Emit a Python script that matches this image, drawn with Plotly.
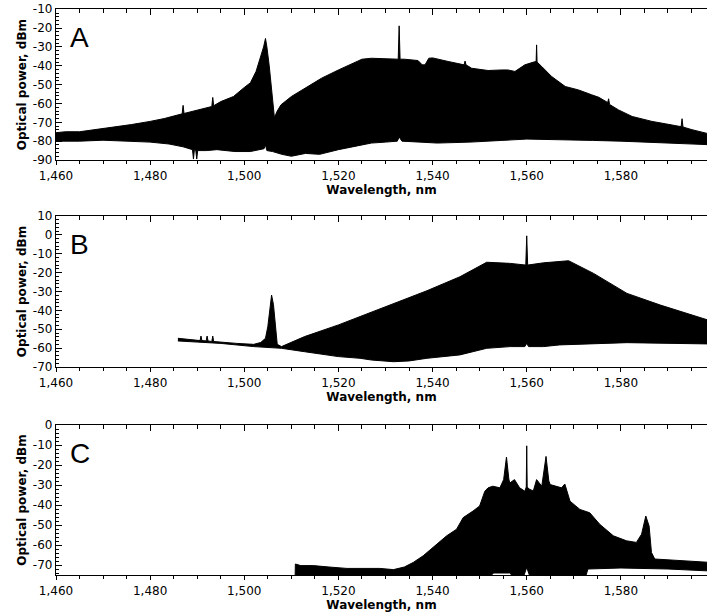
import plotly.graph_objects as go

# ---------------- data ----------------
# Panel A : upper / lower envelope of the spectrum
wl_A_up = [1460, 1462, 1465, 1468, 1470, 1473, 1476, 1480, 1483, 1486.8, 1487, 1487.2, 1490, 1493.1,
           1493.3, 1493.5, 1495, 1497.7, 1500, 1501.3, 1502.5, 1503.5, 1504.1, 1504.5, 1504.8, 1505.3,
           1505.7, 1506.4, 1507, 1507.8, 1510, 1512.8, 1516.4, 1520, 1523.5, 1525, 1527, 1530.5, 1532.7,
           1532.9, 1533.1, 1534, 1536.9, 1537.8, 1538.4, 1539.2, 1540, 1543.3, 1546.7, 1546.9, 1547.1,
           1548.3, 1551.8, 1554.7, 1556, 1557.5, 1559.6, 1561.5, 1562.0, 1562.1, 1562.2, 1563.2, 1565.3,
           1568.2, 1571, 1573.8, 1575.3, 1577.2, 1577.4, 1577.6, 1579.5, 1582.4, 1586.6, 1589.5, 1592.8,
           1593, 1593.2, 1595.1, 1599]
pw_A_up = [-75.5, -75, -75, -74, -73.5, -72.5, -71.2, -69.5, -68, -65.5, -61, -65.3, -63.5, -61.6,
           -56.8, -61.2, -59, -56.3, -51.5, -49, -43, -35, -30, -25.5, -30, -40,
           -51, -67.5, -64, -60.7, -56.3, -52, -46.6, -42.2, -38.3, -36.5, -36, -36.3, -36.5,
           -18.8, -36.5, -36.5, -37.2, -39.5, -39.5, -36, -35.8, -37.7, -39.5, -37.5, -39.5,
           -41.3, -42.5, -42.2, -42.2, -43, -39.5, -38, -37.7, -28.9, -38, -40.4, -45.7,
           -51, -52.8, -55.4, -56.7, -59.5, -57.5, -60.5, -63.4, -66.9, -69.5, -70.8, -72.3,
           -68.1, -72.5, -73.9, -76.3]
wl_A_lo = [1460, 1465, 1470, 1475, 1480, 1484, 1487, 1489.0, 1489.2, 1489.4, 1489.7, 1489.9, 1490.1,
           1492, 1494.2, 1498, 1501.3, 1504.2, 1504.5, 1504.8, 1506, 1508, 1510, 1513, 1516, 1520,
           1524, 1527, 1530, 1532.5, 1532.9, 1533.5, 1536, 1541, 1548, 1554.7, 1560, 1566, 1574,
           1580, 1588, 1599]
pw_A_lo = [-80, -80, -79.5, -80, -80.5, -81.5, -83, -84.5, -89.5, -84.5, -85, -89.5, -85,
           -85, -84.5, -85.5, -85.5, -84, -82, -85, -85.5, -87, -88, -86.5, -87, -84.5,
           -82.5, -81, -80.5, -80, -77.8, -80, -80.5, -81, -80.5, -79.6, -78.9, -79.2, -79.6,
           -80, -80.7, -81.9]

# Panel B
wl_B_up = [1485.9, 1488, 1490.6, 1490.8, 1491.0, 1491.9, 1492.1, 1492.3, 1493.1, 1493.3, 1493.5,
           1498.4, 1502, 1503.5, 1504.5, 1505, 1505.4, 1505.8, 1506.2, 1506.7, 1507, 1507.9, 1512.8,
           1520, 1524.6, 1527, 1531.7, 1538.8, 1545.8, 1551.5, 1556.5, 1559.8, 1560, 1560.2, 1563.6,
           1568.9, 1574.2, 1581.3, 1588.4, 1595.5, 1599]
pw_B_up = [-54.8, -55.5, -56, -53.6, -56, -56.2, -53.6, -56.2, -56.5, -53.6, -56.5,
           -57.5, -58, -57, -54.8, -48.6, -40, -31.9, -37, -51.3, -58, -59.2, -53.9,
           -47.7, -43.3, -40.9, -36.3, -29.6, -22.2, -14.5, -15.1, -16, -0.5, -16, -14.8,
           -13.7, -20.4, -31, -37.2, -42.5, -45.5]
wl_B_lo = [1485.9, 1490, 1495, 1498.4, 1502, 1507.9, 1512.8, 1520, 1524.6, 1527, 1531.7, 1535,
           1538.8, 1545.8, 1551.5, 1556.5, 1559.6, 1560, 1560.4, 1563.6, 1567, 1581.3, 1588.4, 1599]
pw_B_lo = [-56.2, -56.8, -57.5, -58.3, -59.2, -60.1, -61.9, -64.5, -65.4, -66.3, -67.2, -66.8,
           -65.4, -63.6, -60.1, -59.2, -59.2, -57.5, -59.2, -59.2, -58.3, -57.1, -57.5, -57.8]

# Panel C
wl_C_up = [1510.8, 1510.85, 1512, 1514.7, 1518, 1521.8, 1528.8, 1531.7, 1534, 1535.9, 1538, 1540.1,
           1543, 1545.1, 1546.5, 1548.6, 1550, 1551.1, 1551.8, 1552.8, 1554.3, 1555.1, 1555.7,
           1556.2, 1556.4, 1557.4, 1558.5, 1559.6, 1559.9, 1560, 1560.1, 1560.5, 1561.4, 1562.1,
           1563.2, 1564.1, 1564.7, 1565, 1566.4, 1567.4, 1568.1, 1569.2, 1571.3, 1573.4, 1575.5,
           1578.4, 1581.2, 1583.3, 1584.4, 1585.3, 1586, 1586.5, 1587.2, 1592.5, 1599]
pw_C_up = [-76, -69.5, -70.3, -70.3, -71, -71.7, -71.7, -72.3, -71, -68.7, -65.4, -61.2,
           -55.4, -52.1, -46.3, -43, -40.5, -33.1, -31.4, -30.6, -31.4, -27.3, -16,
           -27, -29, -27.3, -31.4, -33.1, -31, -10.4, -31, -32, -33, -27.3,
           -30.6, -15.7, -28, -29.8, -30.6, -31.4, -29.5, -38.1, -42.2, -43.9, -49.6,
           -55.4, -57.9, -58.7, -54.6, -45.5, -50.5, -63.7, -67, -67.9, -68.7]
wl_C_lo = [1510.8, 1552, 1553, 1556.5, 1557, 1559.3, 1560, 1560.7, 1572.5, 1573, 1580, 1590, 1599]
pw_C_lo = [-76, -76, -74, -74, -76, -76, -71.2, -76, -76, -72, -71.5, -72, -73]

# ticks
x_tick_vals = [1460, 1480, 1500, 1520, 1540, 1560, 1580]
x_tick_text = ["1,460", "1,480", "1,500", "1,520", "1,540", "1,560", "1,580"]
y_tick_vals_A = [-10, -20, -30, -40, -50, -60, -70, -80, -90]
y_tick_vals_B = [10, 0, -10, -20, -30, -40, -50, -60, -70]
y_tick_vals_C = [0, -10, -20, -30, -40, -50, -60, -70]
panel_letters = ["A", "B", "C"]
x_title = "Wavelength, nm"
y_title = "Optical power, dBm"

X_RANGE = [1460, 1598.3]
Y_RANGES = [[-90, -10], [-70, 10], [-75, 0]]
Y_DOMAINS = [[0.7394, 0.9849], [0.4023, 0.6482], [0.0635, 0.3078]]

FONT = "DejaVu Sans"

fig = go.Figure()

bands = [(wl_A_up, pw_A_up, wl_A_lo, pw_A_lo),
         (wl_B_up, pw_B_up, wl_B_lo, pw_B_lo),
         (wl_C_up, pw_C_up, wl_C_lo, pw_C_lo)]

for i, (wu, pu, wl, pl) in enumerate(bands):
    sx = "" if i == 0 else str(i + 1)
    fig.add_trace(go.Scatter(
        x=list(wu) + list(wl[::-1]), y=list(pu) + list(pl[::-1]),
        mode="lines", fill="toself", fillcolor="black",
        line=dict(color="black", width=1), hoverinfo="skip",
        xaxis="x" + sx, yaxis="y" + sx, showlegend=False))
    # dummy trace for the top tick axis
    fig.add_trace(go.Scatter(x=[None], y=[None], xaxis="x" + str(i + 4), yaxis="y" + sx,
                             showlegend=False, hoverinfo="skip"))

layout = dict(width=707, height=614, paper_bgcolor="white", plot_bgcolor="white",
              margin=dict(l=56, r=0, t=0, b=0), showlegend=False,
              font=dict(family=FONT, size=12, color="black"))

y_tick_sets = [y_tick_vals_A, y_tick_vals_B, y_tick_vals_C]
annotations = []
for i in range(3):
    sx = "" if i == 0 else str(i + 1)
    layout["xaxis" + sx] = dict(
        domain=[0, 1], anchor="y" + sx, range=X_RANGE, showgrid=False, zeroline=False,
        showline=True, linecolor="black", linewidth=1.3,
        ticks="outside", ticklen=4, tickcolor="black", tickwidth=1,
        tickmode="array", tickvals=x_tick_vals, ticktext=x_tick_text,
        tickfont=dict(family=FONT, size=12, color="black"),
        minor=dict(ticks="outside", ticklen=3, tickcolor="black", tick0=1460, dtick=5),
        title=dict(text="<b>" + x_title + "</b>", font=dict(family=FONT, size=12, color="black"),
                   standoff=2),
        automargin=False, fixedrange=True)
    layout["xaxis" + str(i + 4)] = dict(
        overlaying="x" + sx, anchor="y" + sx, side="top", range=X_RANGE,
        showgrid=False, zeroline=False, showline=True, linecolor="black", linewidth=1.3,
        ticks="inside", ticklen=6, tickcolor="black", tickwidth=1,
        tickmode="array", tickvals=x_tick_vals, showticklabels=False,
        minor=dict(ticks="inside", ticklen=4, tickcolor="black", tick0=1460, dtick=5),
        automargin=False, fixedrange=True)
    yv = y_tick_sets[i]
    layout["yaxis" + sx] = dict(
        domain=Y_DOMAINS[i], anchor="x" + sx, range=Y_RANGES[i], showgrid=False, zeroline=False,
        showline=True, linecolor="black", linewidth=1.3,
        ticks="inside", ticklen=6, tickcolor="black", tickwidth=1,
        tickmode="array", tickvals=yv, ticktext=[str(v) for v in yv],
        tickfont=dict(family=FONT, size=12, color="black"),
        minor=dict(ticks="inside", ticklen=3, tickcolor="black", tick0=0, dtick=2),
        title=dict(text="<b>" + y_title + "</b>", font=dict(family=FONT, size=12, color="black"),
                   standoff=3),
        automargin=False, fixedrange=True)
    annotations.append(dict(text=panel_letters[i], xref="x" + sx + " domain",
                            yref="y" + sx + " domain", x=0.018, y=(1 - 28.5 / 150.7),
                            xanchor="left", yanchor="middle", showarrow=False,
                            font=dict(family="Liberation Sans", size=28, color="black")))
layout["annotations"] = annotations

fig.update_layout(**layout)
fig.write_html("out.html", config={"displayModeBar": False},
               post_script="document.body.style.margin='0';document.body.style.padding='0';"
                           "document.documentElement.style.overflow='hidden';")
